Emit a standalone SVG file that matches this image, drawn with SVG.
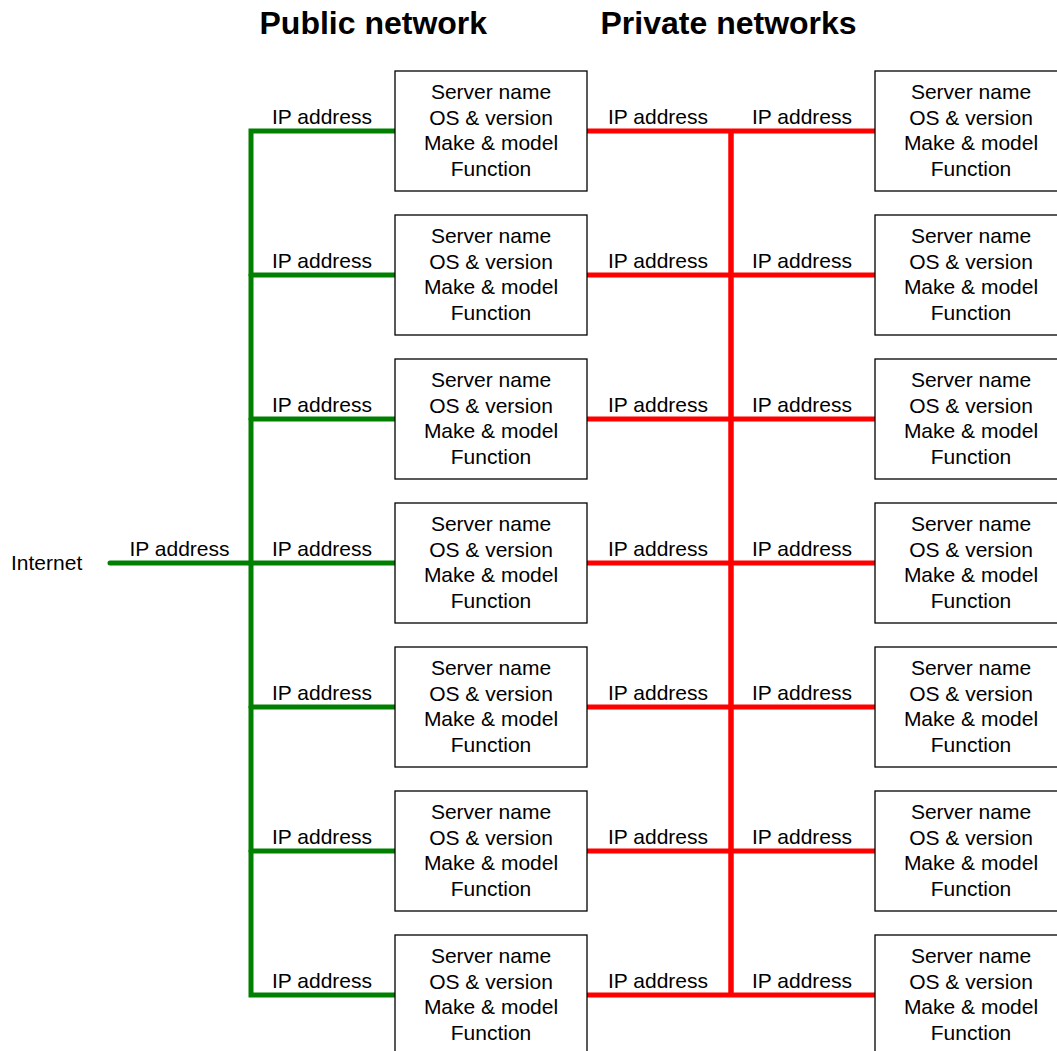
<svg xmlns="http://www.w3.org/2000/svg" width="1057" height="1051" viewBox="0 0 1057 1051">
<style>
text{font-family:"Liberation Sans",Arial,sans-serif;font-size:21px;fill:#000}
.h{font-size:32px;font-weight:bold}
.c{text-anchor:middle}
.box{fill:#fff;stroke:#000;stroke-width:1.3}
.g{fill:none;stroke:#008000;stroke-width:5;stroke-linecap:round;stroke-linejoin:miter}
.r{fill:none;stroke:#ff0000;stroke-width:5;stroke-linecap:round}
.rv{fill:none;stroke:#ff0000;stroke-width:5.5;stroke-linecap:butt}
</style>
<defs>
<g id="srv">
<rect class="box" x="0" y="0" width="192" height="120"/>
<text class="c" x="96" y="28">Server name</text>
<text class="c" x="96" y="53.5">OS &amp; version</text>
<text class="c" x="96" y="79">Make &amp; model</text>
<text class="c" x="96" y="104.5">Function</text>
</g>
</defs>
<rect width="1057" height="1051" fill="#fff"/>
<text class="h" x="259.5" y="33.5">Public network</text>
<text class="h" x="600.5" y="33.5">Private networks</text>
<g id="connectors">
<path class="g" d="M395 131 H251 V995 H395"/>
<path class="g" d="M251 275 H395 M251 419 H395 M110 563 H395 M251 707 H395 M251 851 H395"/>
<path class="rv" d="M731 131 V995"/>
<path class="r" d="M587 131 H875 M587 275 H875 M587 419 H875 M587 563 H875 M587 707 H875 M587 851 H875 M587 995 H875"/>
</g>
<g id="labels">
<text x="11" y="569.5">Internet</text>
<text class="c" x="179.5" y="556.3">IP address</text>
<text class="c" x="322" y="124.3">IP address</text>
<text class="c" x="322" y="268.3">IP address</text>
<text class="c" x="322" y="412.3">IP address</text>
<text class="c" x="322" y="556.3">IP address</text>
<text class="c" x="322" y="700.3">IP address</text>
<text class="c" x="322" y="844.3">IP address</text>
<text class="c" x="322" y="988.3">IP address</text>
<text class="c" x="658" y="124.3">IP address</text>
<text class="c" x="658" y="268.3">IP address</text>
<text class="c" x="658" y="412.3">IP address</text>
<text class="c" x="658" y="556.3">IP address</text>
<text class="c" x="658" y="700.3">IP address</text>
<text class="c" x="658" y="844.3">IP address</text>
<text class="c" x="658" y="988.3">IP address</text>
<text class="c" x="802" y="124.3">IP address</text>
<text class="c" x="802" y="268.3">IP address</text>
<text class="c" x="802" y="412.3">IP address</text>
<text class="c" x="802" y="556.3">IP address</text>
<text class="c" x="802" y="700.3">IP address</text>
<text class="c" x="802" y="844.3">IP address</text>
<text class="c" x="802" y="988.3">IP address</text>
</g>
<g id="server-l1"><use href="#srv" x="395" y="71"/></g>
<g id="server-l2"><use href="#srv" x="395" y="215"/></g>
<g id="server-l3"><use href="#srv" x="395" y="359"/></g>
<g id="server-l4"><use href="#srv" x="395" y="503"/></g>
<g id="server-l5"><use href="#srv" x="395" y="647"/></g>
<g id="server-l6"><use href="#srv" x="395" y="791"/></g>
<g id="server-l7"><use href="#srv" x="395" y="935"/></g>
<g id="server-r1"><use href="#srv" x="875" y="71"/></g>
<g id="server-r2"><use href="#srv" x="875" y="215"/></g>
<g id="server-r3"><use href="#srv" x="875" y="359"/></g>
<g id="server-r4"><use href="#srv" x="875" y="503"/></g>
<g id="server-r5"><use href="#srv" x="875" y="647"/></g>
<g id="server-r6"><use href="#srv" x="875" y="791"/></g>
<g id="server-r7"><use href="#srv" x="875" y="935"/></g>
</svg>
